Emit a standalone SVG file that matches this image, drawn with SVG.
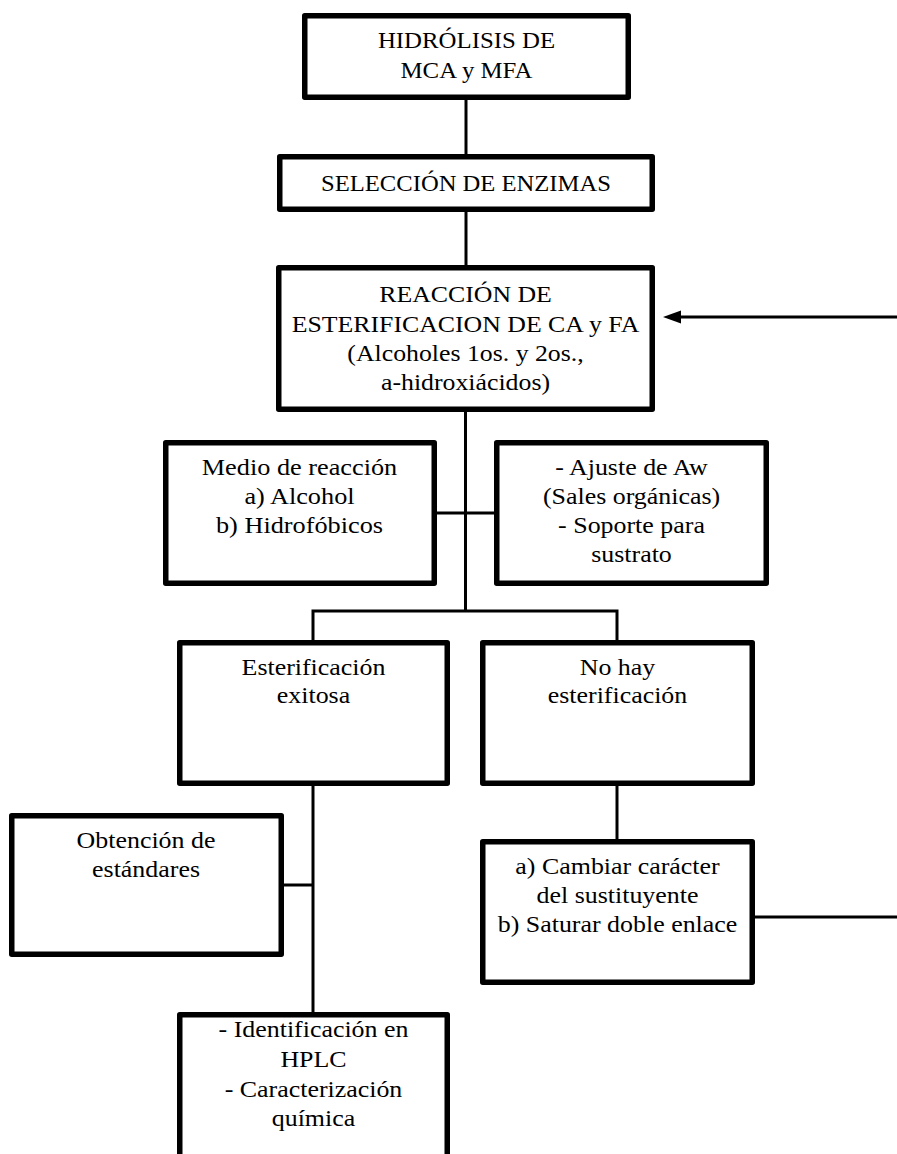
<svg xmlns="http://www.w3.org/2000/svg" width="897" height="1154" viewBox="0 0 897 1154">
<style>
.box{fill:#fff;stroke:#000;stroke-width:5.5;stroke-linejoin:round}
.t{font-family:"Liberation Serif","Times New Roman",serif;font-size:24px;fill:#000;text-anchor:middle}
.c{fill:none;stroke:#000;stroke-width:3}
</style>
<rect width="897" height="1154" fill="#fff"/>
<g id="connectors">
<line class="c" x1="466" y1="100" x2="466" y2="154"/>
<line class="c" x1="466" y1="212" x2="466" y2="265"/>
<line class="c" x1="465.5" y1="412" x2="465.5" y2="611"/>
<line class="c" x1="437" y1="513" x2="494" y2="513"/>
<polyline class="c" points="313,640 313,611 617,611 617,640"/>
<line class="c" x1="313" y1="786" x2="313" y2="1012"/>
<line class="c" x1="284" y1="885" x2="313" y2="885"/>
<line class="c" x1="617" y1="786" x2="617" y2="839"/>
<line class="c" x1="755" y1="917" x2="897" y2="917"/>
<line class="c" x1="680" y1="317" x2="897" y2="317"/>
<polygon points="663,317 681,310.5 681,323.5" fill="#000"/>
</g>
<g id="n1">
<rect class="box" x="304.75" y="15.75" width="323.5" height="81.5"/>
<g transform="translate(466.5 0) scale(1.035 1)">
<text class="t" x="0" y="48">HIDRÓLISIS DE</text>
<text class="t" x="0" y="78">MCA y MFA</text>
</g>
</g>
<g id="n2">
<rect class="box" x="279.75" y="156.75" width="372.5" height="52.5"/>
<g transform="translate(466 0) scale(1.026 1)">
<text class="t" x="0" y="191.5">SELECCIÓN DE ENZIMAS</text>
</g>
</g>
<g id="n3">
<rect class="box" x="278.75" y="267.75" width="373.5" height="141.5"/>
<g transform="translate(465.5 0) scale(1.075 1)">
<text class="t" x="0" y="302.5">REACCIÓN DE</text>
<text class="t" x="0" y="332">ESTERIFICACION DE CA y FA</text>
<text class="t" x="0" y="361">(Alcoholes 1os. y 2os.,</text>
<text class="t" x="0" y="390">a-hidroxiácidos)</text>
</g>
</g>
<g id="n4">
<rect class="box" x="165.75" y="442.75" width="268.5" height="140.5"/>
<g transform="translate(299.5 0) scale(1.095 1)">
<text class="t" x="0" y="475">Medio de reacción</text>
<text class="t" x="0" y="504">a) Alcohol</text>
<text class="t" x="0" y="533">b) Hidrofóbicos</text>
</g>
</g>
<g id="n5">
<rect class="box" x="496.75" y="442.75" width="269.5" height="140.5"/>
<g transform="translate(631.5 0) scale(1.08 1)">
<text class="t" x="0" y="475">- Ajuste de Aw</text>
<text class="t" x="0" y="504">(Sales orgánicas)</text>
<text class="t" x="0" y="533">- Soporte para</text>
<text class="t" x="0" y="562">sustrato</text>
</g>
</g>
<g id="n6">
<rect class="box" x="179.75" y="642.75" width="267.5" height="140.5"/>
<g transform="translate(313.5 0) scale(1.08 1)">
<text class="t" x="0" y="675">Esterificación</text>
<text class="t" x="0" y="703.5">exitosa</text>
</g>
</g>
<g id="n7">
<rect class="box" x="482.75" y="642.75" width="269.5" height="140.5"/>
<g transform="translate(617.5 0) scale(1.08 1)">
<text class="t" x="0" y="675">No hay</text>
<text class="t" x="0" y="703.5">esterificación</text>
</g>
</g>
<g id="n8">
<rect class="box" x="11.75" y="815.75" width="269.5" height="138.5"/>
<g transform="translate(146 0) scale(1.08 1)">
<text class="t" x="0" y="848.5">Obtención de</text>
<text class="t" x="0" y="877">estándares</text>
</g>
</g>
<g id="n9">
<rect class="box" x="482.75" y="841.75" width="269.5" height="140.5"/>
<g transform="translate(617.5 0) scale(1.08 1)">
<text class="t" x="0" y="874.5">a) Cambiar carácter</text>
<text class="t" x="0" y="903.5">del sustituyente</text>
<text class="t" x="0" y="932">b) Saturar doble enlace</text>
</g>
</g>
<g id="n10">
<rect class="box" x="179.75" y="1014.75" width="267.5" height="150"/>
<g transform="translate(313.5 0) scale(1.08 1)">
<text class="t" x="0" y="1037.5">- Identificación en</text>
<text class="t" x="0" y="1067">HPLC</text>
<text class="t" x="0" y="1097">- Caracterización</text>
<text class="t" x="0" y="1126">química</text>
</g>
</g>
</svg>
